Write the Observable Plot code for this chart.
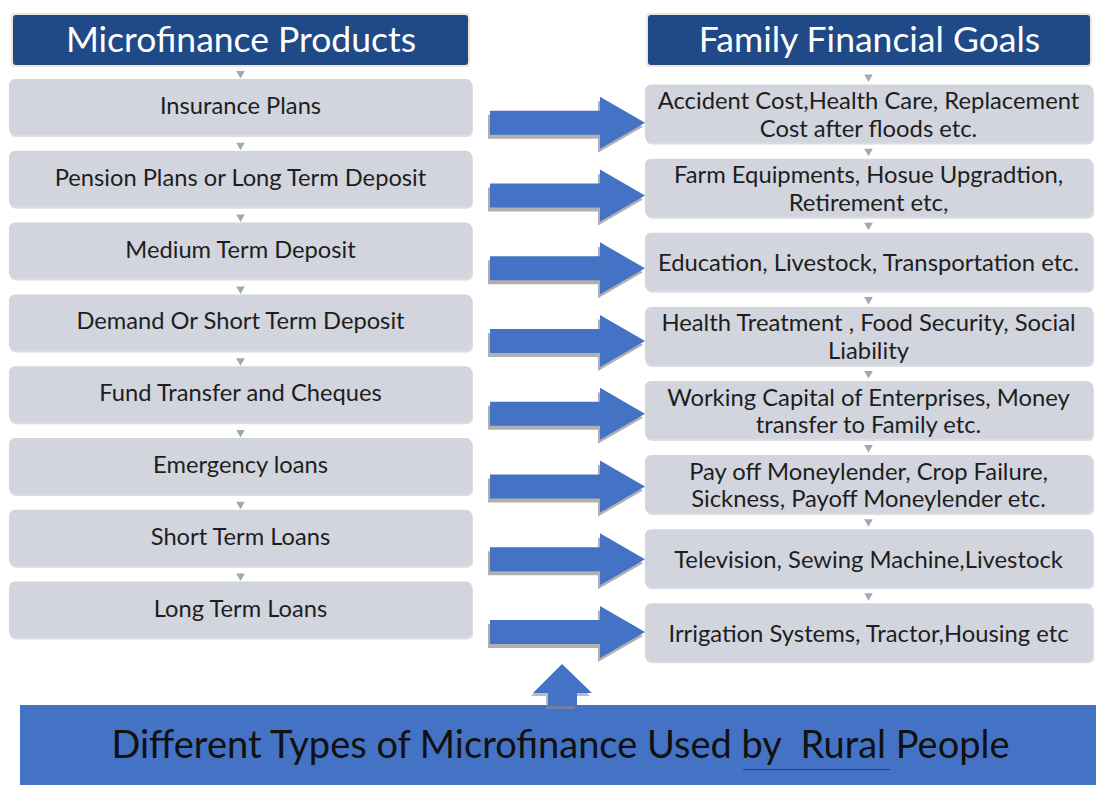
<!DOCTYPE html>
<html>
<head>
<meta charset="utf-8">
<script src="https://cdn.jsdelivr.net/npm/d3@7"></script>
<script src="https://cdn.jsdelivr.net/npm/@observablehq/plot@0.6"></script>
<style>
  html, body { margin: 0; padding: 0; background: #ffffff; }
  svg { display: block; }
</style>
</head>
<body>
<div id="chart"></div>
<script>
// ---- content ----
const leftHeader = "Microfinance Products";
const rightHeader = "Family Financial Goals";
const products = [
  "Insurance Plans",
  "Pension Plans or Long Term Deposit",
  "Medium Term Deposit",
  "Demand Or Short Term Deposit",
  "Fund Transfer and Cheques",
  "Emergency loans",
  "Short Term Loans",
  "Long Term Loans"
];
const goals = [
  "Accident Cost,Health Care, Replacement\nCost after floods etc.",
  "Farm Equipments, Hosue Upgradtion,\nRetirement etc,",
  "Education, Livestock, Transportation etc.",
  "Health Treatment , Food Security, Social\nLiability",
  "Working Capital of Enterprises, Money\ntransfer to Family etc.",
  "Pay off Moneylender, Crop Failure,\nSickness, Payoff Moneylender etc.",
  "Television, Sewing Machine,Livestock",
  "Irrigation Systems, Tractor,Housing etc"
];
const bannerText = "Different Types of Microfinance Used by  Rural People";

// ---- layout ----
const W = 1096, H = 785;
const L = {x1: 9, x2: 472, cx: 240, top0: 79, step: 71.8, h: 56, textOff: 27};
const R = {x1: 645, x2: 1093, cx: 868, top0: 84.6, step: 74.1, h: 58};
const A = {x0: 490, xh: 600, tip: 645, c0: 122.8, step: 72.75, shaft: 12, head: 26};
const font = "Lato, 'Open Sans', sans-serif";
const navy = "#1f4a87", blue = "#4472c4", gray = "#d2d5dd";

const leftRows = products.map((label, i) => ({label, top: L.top0 + i * L.step}));
const rightRows = goals.map((label, i) => ({label, top: R.top0 + i * R.step}));
const headers = [
  {label: leftHeader, x1: 13, x2: 468},
  {label: rightHeader, x1: 648, x2: 1090}
];

// right-pointing block arrows as area polygons
const arrows = [];
products.forEach((_, i) => {
  const c = A.c0 + i * A.step;
  arrows.push({k: i, x: A.x0, y1: c - A.shaft, y2: c + A.shaft});
  arrows.push({k: i, x: A.xh, y1: c - A.shaft, y2: c + A.shaft});
  arrows.push({k: i, x: A.xh, y1: c - A.head, y2: c + A.head});
  arrows.push({k: i, x: A.tip, y1: c, y2: c});
});
// up arrow
const upArrow = [
  {y: 664, x1: 562, x2: 562},
  {y: 693, x1: 533, x2: 592},
  {y: 693, x1: 548, x2: 577},
  {y: 706, x1: 548, x2: 577}
];

// connectors
const leftConn = leftRows.map(r => ({x: L.cx, y: r.top - 6}));
const rightConn = rightRows.map(r => ({x: R.cx, y: r.top - 8}));

const chart = Plot.plot({
  width: W,
  height: H,
  margin: 0,
  style: {background: "#ffffff"},
  x: {domain: [0, W], range: [0, W], axis: null},
  y: {domain: [0, H], range: [0, H], axis: null},
  marks: [
    // headers
    Plot.rect(headers, {x1: "x1", x2: "x2", y1: 15, y2: 65, fill: "#efe6d8", inset: -2, rx: 4}),
    Plot.rect(headers, {x1: "x1", x2: "x2", y1: 15, y2: 65, fill: navy, rx: 3}),
    Plot.text(headers, {x: d => (d.x1 + d.x2) / 2, y: 40, text: "label", fill: "#ffffff", fontSize: 35.5, fontFamily: font}),
    // connectors
    Plot.dot(leftConn, {x: "x", y: "y", symbol: "triangle", rotate: 180, r: 3.2, fill: "#a3a7b0"}),
    Plot.dot(rightConn, {x: "x", y: "y", symbol: "triangle", rotate: 180, r: 3.2, fill: "#a3a7b0"}),
    // left boxes
    Plot.rect(leftRows, {x1: L.x1, x2: L.x2, y1: "top", y2: d => d.top + L.h, fill: "#c4c7ce", dx: 1, dy: 2, rx: 6, fillOpacity: 0.6}),
    Plot.rect(leftRows, {x1: L.x1, x2: L.x2, y1: "top", y2: d => d.top + L.h, fill: gray, rx: 6}),
    Plot.text(leftRows, {x: L.cx, y: d => d.top + L.textOff, text: "label", fill: "#1e1e1e", fontSize: 23.7, fontFamily: font}),
    // right boxes
    Plot.rect(rightRows, {x1: R.x1, x2: R.x2, y1: "top", y2: d => d.top + R.h, fill: "#c4c7ce", dx: 1, dy: 2, rx: 6, fillOpacity: 0.6}),
    Plot.rect(rightRows, {x1: R.x1, x2: R.x2, y1: "top", y2: d => d.top + R.h, fill: gray, rx: 6}),
    Plot.text(rightRows, {x: R.cx, y: d => d.top + R.h / 2, text: "label", fill: "#1e1e1e", fontSize: 23.8, lineHeight: 1.17, fontFamily: font}),
    // arrows (shadow + body)
    Plot.areaY(arrows, {x: "x", y1: "y1", y2: "y2", z: "k", fill: "#8e8e8e", fillOpacity: 0.7, dx: -2, dy: 4}),
    Plot.areaY(arrows, {x: "x", y1: "y1", y2: "y2", z: "k", fill: blue}),
    // bottom banner
    Plot.rect([bannerText], {x1: 20, x2: W, y1: 705, y2: H, fill: blue}),
    Plot.areaX(upArrow, {y: "y", x1: "x1", x2: "x2", fill: "#8e8e8e", fillOpacity: 0.6, dx: -2, dy: 3}),
    Plot.areaX(upArrow, {y: "y", x1: "x1", x2: "x2", fill: blue}),
    Plot.ruleY([769], {x1: 743, x2: 890, stroke: "#2b3f7a", strokeWidth: 1}),
    Plot.text([bannerText], {x: 560, y: 745, text: d => d, fill: "#111111", fontSize: 38, fontFamily: font})
  ]
});
document.getElementById("chart").append(chart);
</script>
</body>
</html>
